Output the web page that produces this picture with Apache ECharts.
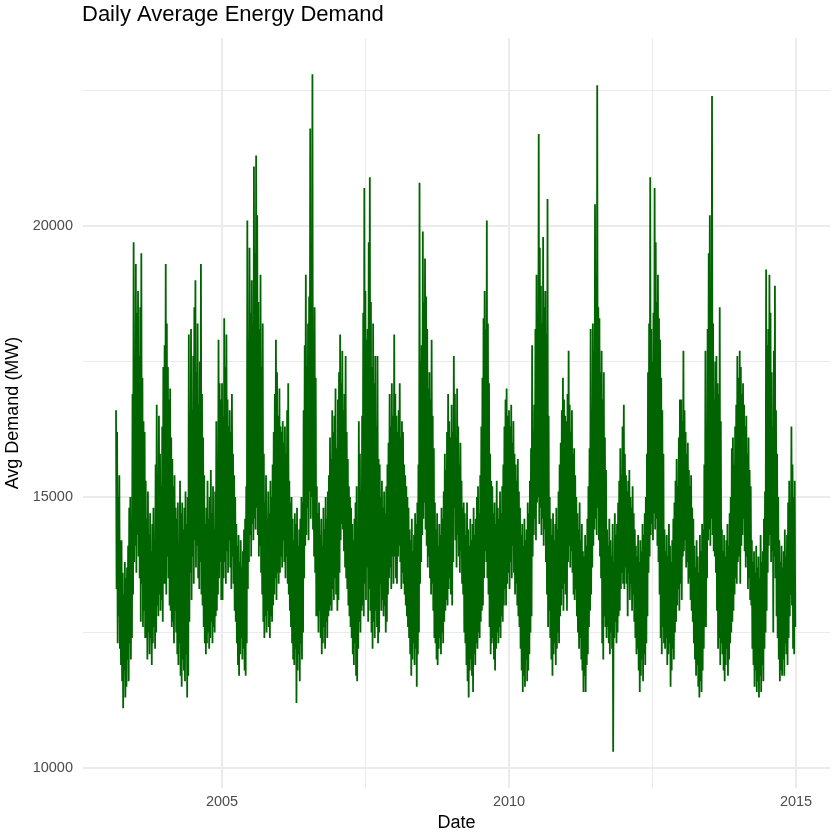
<!DOCTYPE html>
<html lang="en">
<head>
    <meta charset="utf-8">
    <title>Daily Average Energy Demand</title>
    <script src="https://cdn.jsdelivr.net/npm/echarts@6/dist/echarts.min.js"></script>
    <style>
        html, body {margin: 0; padding: 0; background: #fff;}
        #main {width: 840px; height: 840px;}
    </style>
</head>
<body>
<div id="main"></div>
<script type="text/javascript">
    // daily average demand (MW) read off the picture as a weekly high and a weekly low,
    // one pair of arrays per year; 2003 starts late February (week 8)
    var firstWeek2003 = 8;

    var high2003 = [16600, 16200, 15000, 15400, 14200, 14200, 13600, 13200, 13800, 13500, 13700, 14100, 14800, 15000, 14500, 16900, 19700, 17400, 19300, 18400, 18800, 17600, 18500, 19500, 17200, 16400, 16200, 15300, 14600, 15100, 14300, 14700, 14000, 14500, 14800, 14200, 15600, 16700, 15400, 16500, 15800, 15200, 16300, 17400];
    var low2003 = [13300, 12300, 12800, 12200, 11900, 11600, 11100, 11800, 11300, 11500, 12000, 11600, 12300, 12000, 12400, 13200, 13800, 14100, 13600, 14300, 13900, 13500, 12700, 13400, 12600, 12900, 12400, 12400, 12000, 12500, 12100, 12400, 11900, 12300, 12600, 12200, 12500, 13000, 12800, 13200, 12900, 13100, 12700, 13400];

    var high2004 = [17800, 19300, 18200, 17400, 16800, 17000, 16100, 15700, 15200, 15400, 14800, 14600, 14900, 14100, 15300, 14700, 14900, 14400, 14800, 15100, 14500, 15000, 18000, 16500, 18100, 16600, 17600, 18500, 19000, 17300, 18200, 16700, 17500, 19300, 16900, 16100, 15400, 14500, 14800, 15300, 14600, 15000, 15500, 14700, 15200, 14400, 15100, 16400, 15700, 17900, 17100, 16800];
    var low2004 = [13400, 13200, 13900, 13500, 13000, 12900, 12600, 12700, 12300, 12900, 12500, 12100, 11900, 12300, 11700, 11500, 12000, 11800, 11600, 12100, 11300, 11700, 12700, 13600, 13100, 13900, 13400, 14200, 13700, 14100, 13500, 13300, 13800, 13200, 13000, 12600, 12300, 12100, 12300, 12500, 12200, 12400, 12700, 12300, 12600, 12500, 12800, 12900, 13200, 13500, 13800, 13100];

    var high2005 = [17100, 16500, 18300, 17400, 18000, 16800, 16300, 16600, 16200, 16900, 15800, 15400, 15000, 14500, 14100, 14300, 13800, 14200, 13700, 14000, 14400, 14600, 15200, 20100, 17900, 19600, 18400, 19000, 18200, 21100, 19500, 21300, 20200, 18600, 18100, 19100, 17400, 18200, 15800, 14900, 15400, 14600, 15100, 14700, 15300, 15000, 15600, 16200, 16900, 17900, 17300, 16500];
    var low2005 = [13100, 13500, 13800, 13400, 14000, 13600, 14200, 13700, 13300, 13900, 13400, 12900, 12700, 12300, 11900, 11700, 12100, 12400, 12000, 12200, 11800, 11700, 12300, 13300, 13800, 14300, 13900, 14500, 14200, 14600, 14400, 14800, 14300, 13900, 14100, 13600, 13200, 12700, 12400, 12800, 12500, 12900, 12600, 12400, 12800, 12700, 13000, 13200, 13500, 13100, 13600, 13400];

    var high2006 = [17000, 16300, 16200, 16400, 16000, 16300, 15800, 16600, 17100, 15300, 14900, 15000, 14600, 14200, 14700, 14500, 14800, 14100, 14400, 14600, 15000, 14900, 16600, 17800, 19100, 17400, 18200, 18700, 21800, 19200, 22800, 18000, 18500, 17200, 15200, 14700, 14900, 14300, 14600, 14100, 14800, 14400, 15000, 14600, 15100, 15400, 16100, 15700, 16600, 16200, 16500, 17000];
    var low2006 = [13600, 13900, 13700, 14200, 13800, 13500, 13900, 13400, 13200, 12900, 12600, 12300, 12000, 11900, 12200, 11200, 11800, 12100, 11600, 12300, 12000, 12500, 13500, 14100, 14300, 14800, 14200, 15100, 14600, 15000, 14400, 13900, 13600, 12800, 12800, 12500, 12900, 12400, 12100, 12300, 12600, 12200, 12700, 12400, 12800, 12900, 13000, 12900, 13300, 13100, 13500, 13200];

    var high2007 = [15900, 16800, 17300, 18000, 17100, 17700, 16600, 16900, 17600, 16200, 15700, 15200, 15000, 14800, 14500, 14200, 14600, 14900, 15200, 14400, 16400, 15800, 15100, 16500, 18400, 20700, 18800, 17900, 18100, 19700, 20900, 18600, 17400, 18200, 17100, 17600, 16300, 17600, 15700, 15600, 15000, 15300, 14800, 15100, 14700, 15200, 15600, 16000, 16900, 16300, 17100, 16500];
    var low2007 = [12900, 13100, 13600, 14200, 14500, 14400, 14000, 13700, 13500, 13300, 13000, 12800, 12600, 12400, 12100, 11900, 12300, 11700, 11600, 12200, 12700, 12500, 12900, 13000, 12800, 13400, 13100, 13700, 12700, 13300, 12900, 12500, 12200, 12700, 12400, 12900, 12600, 12300, 12500, 13400, 12900, 13100, 12800, 13000, 12500, 12700, 13200, 13500, 13700, 13300, 13900, 13400];

    var high2008 = [18000, 16900, 16500, 16200, 16600, 17100, 16100, 16400, 16200, 15600, 15400, 15200, 15000, 14800, 14400, 14200, 14600, 14000, 14300, 14700, 14500, 14900, 15600, 20800, 17500, 17800, 19900, 18600, 19400, 18700, 18100, 17000, 17300, 16800, 17900, 16500, 15900, 14900, 14400, 14700, 14100, 14500, 14300, 14800, 14600, 15100, 15800, 15500, 16200, 16900, 16400, 16100];
    var low2008 = [13900, 13500, 13400, 13900, 14100, 13800, 13300, 13600, 13400, 13200, 13000, 12800, 12600, 12400, 12100, 11700, 12000, 12300, 11900, 12200, 11500, 12100, 12500, 13400, 13800, 14300, 14600, 14900, 14400, 14100, 13700, 13900, 13500, 13200, 13400, 12900, 12400, 12300, 12000, 11900, 12200, 12400, 12100, 12500, 12300, 12700, 12900, 13100, 13000, 13300, 13500, 13200];

    var high2009 = [16700, 16200, 17600, 16900, 16100, 17000, 16300, 15600, 16000, 15300, 14800, 14900, 14700, 14300, 14900, 14400, 14100, 14600, 14200, 14500, 14800, 14300, 14600, 15000, 15200, 14700, 15400, 16300, 17200, 18300, 18800, 18100, 20100, 18200, 17100, 15800, 15300, 15200, 14700, 14900, 14500, 15300, 14800, 14600, 15100, 14700, 15200, 15600, 16300, 16800, 17000, 16500];
    var low2009 = [13000, 13800, 14800, 14200, 13700, 14300, 13900, 13600, 14000, 13400, 13200, 12500, 12300, 11900, 11600, 11300, 11800, 12000, 11700, 11400, 12100, 11900, 12300, 12200, 12500, 12400, 12700, 12900, 13000, 13500, 14000, 13800, 13500, 13200, 12600, 12100, 12300, 12400, 12000, 11800, 12200, 12500, 12300, 12600, 12400, 12800, 12700, 13000, 13300, 13000, 13400, 13600];

    var high2010 = [16600, 16300, 16700, 16000, 16400, 15800, 15600, 15300, 15700, 15100, 14800, 14300, 14500, 14100, 14600, 14200, 14400, 14900, 14700, 15300, 15900, 17800, 16200, 16700, 18100, 19100, 17400, 21700, 19600, 18900, 18200, 19800, 18500, 18800, 18000, 20500, 16500, 15000, 14600, 14300, 14700, 14200, 14500, 14800, 14400, 15100, 15600, 16000, 16600, 17200, 16800, 16500];
    var low2010 = [13300, 13800, 13500, 14100, 13600, 13200, 13400, 13000, 12800, 12600, 12200, 11800, 11400, 11700, 11500, 12000, 11600, 11800, 12100, 12500, 12800, 13900, 14300, 14600, 14200, 14900, 15000, 14500, 14800, 14300, 14600, 14100, 14400, 13800, 13200, 12600, 12900, 12400, 12000, 11700, 12100, 12300, 11900, 12200, 12500, 12300, 12800, 13000, 13300, 12900, 13400, 13200];

    var high2011 = [16400, 16900, 17700, 16700, 16200, 16600, 15800, 15900, 15400, 15000, 14700, 14400, 14900, 14200, 14500, 14000, 13900, 14300, 14100, 14600, 15200, 15900, 18100, 16600, 18200, 17700, 20400, 19100, 22600, 18500, 18300, 17300, 17700, 16800, 17300, 16100, 15500, 14400, 14100, 14600, 14200, 13900, 14500, 13800, 14700, 14300, 14500, 14900, 15300, 15900, 15400, 16300];
    var low2011 = [12900, 13800, 14100, 13700, 14000, 13600, 13200, 13100, 13300, 12800, 12500, 12200, 12400, 12000, 11800, 11400, 11700, 11400, 11900, 12100, 12600, 12900, 13200, 13700, 14100, 14400, 14600, 14300, 14800, 14200, 13900, 13500, 12300, 12000, 12800, 12600, 12400, 12600, 12300, 12100, 12500, 12200, 10300, 12400, 12700, 12300, 12500, 12800, 12900, 13300, 13600, 13400];

    var high2012 = [16700, 15800, 15400, 15100, 15300, 15500, 15000, 14800, 15200, 14700, 14400, 14100, 13900, 14300, 13800, 14200, 14000, 14500, 14300, 14700, 15000, 15800, 17300, 18200, 20900, 18100, 17500, 18400, 20700, 19700, 18600, 19100, 18300, 17900, 17200, 16600, 15800, 14400, 14000, 14300, 13900, 14500, 14100, 13800, 14200, 14600, 14900, 15300, 15700, 15200, 16100, 16800];
    var low2012 = [13300, 13700, 13400, 12800, 13600, 13100, 13400, 12900, 13200, 12700, 12400, 12100, 12200, 11800, 11400, 11700, 12000, 11600, 12100, 11900, 12300, 12800, 13600, 13900, 14300, 14500, 14200, 14700, 14400, 14600, 14100, 13800, 13200, 12400, 12100, 12600, 12300, 12200, 12400, 11900, 12100, 12300, 11500, 11800, 12200, 12000, 12500, 12700, 13000, 13300, 12900, 13400];

    var high2013 = [16800, 16400, 17700, 16600, 16200, 15800, 16000, 15500, 15200, 15400, 14800, 14600, 14100, 13700, 14200, 13900, 13600, 14300, 14000, 14500, 14400, 15600, 17700, 16300, 18100, 19500, 20200, 18300, 22400, 18200, 16800, 17500, 17600, 17100, 16900, 18500, 16400, 14400, 14000, 14300, 13900, 14200, 14500, 14100, 14700, 15000, 15900, 16100, 15600, 16300, 16700, 17600];
    var low2013 = [13100, 13900, 14000, 14200, 13700, 13800, 13400, 13500, 13100, 12900, 12700, 12300, 12000, 11700, 11900, 11500, 11300, 11600, 11400, 11800, 12200, 12600, 12600, 13500, 14200, 14400, 14100, 14600, 14300, 14000, 13900, 13600, 12900, 12200, 12400, 11900, 12300, 12100, 11800, 11600, 11900, 12200, 11700, 12000, 12300, 12500, 12700, 12900, 13200, 13500, 13400, 13800];

    var high2014 = [17200, 17700, 17400, 16900, 17100, 16700, 16300, 16500, 15800, 16100, 15500, 15200, 14200, 13800, 14000, 13600, 14100, 13700, 13900, 13500, 14300, 13800, 14000, 14600, 15100, 19200, 17800, 18100, 19100, 18400, 17300, 16300, 17700, 18900, 16600, 15800, 15000, 14200, 13800, 14100, 13700, 14000, 14400, 13900, 14300, 14900, 15300, 14600, 16300, 15600, 15000, 15300];
    var low2014 = [13900, 13400, 14100, 14300, 14600, 14000, 13700, 13900, 13300, 13500, 13100, 13000, 12200, 11900, 11500, 11800, 11400, 11600, 11300, 11700, 11400, 11900, 11600, 12200, 12500, 12900, 13600, 14100, 14300, 13800, 14000, 12500, 13900, 13500, 12800, 12400, 12000, 11600, 11800, 11700, 12000, 11700, 12300, 12100, 11900, 12400, 12800, 13200, 13000, 12200, 12100, 12600];

    var years = [2003, 2004, 2005, 2006, 2007, 2008, 2009, 2010, 2011, 2012, 2013, 2014];
    var highs = [high2003, high2004, high2005, high2006, high2007, high2008,
        high2009, high2010, high2011, high2012, high2013, high2014];
    var lows = [low2003, low2004, low2005, low2006, low2007, low2008,
        low2009, low2010, low2011, low2012, low2013, low2014];
    var yearLabels = [2005, 2010, 2015];

    // decimal year on x: high at the start of the week, low half a week later
    var points = [];
    years.forEach(function (y, k) {
        var start = k === 0 ? firstWeek2003 : 0;
        highs[k].forEach(function (h, i) {
            var day = 7 * (start + i);
            points.push([y + day / 365.25, h]);
            points.push([y + (day + 3.5) / 365.25, lows[k][i]]);
        });
    });

    var gridColor = '#EBEBEB';
    var myChart = echarts.init(document.getElementById('main'));

    var option = {
        animation: false,
        backgroundColor: '#ffffff',
        textStyle: {fontFamily: 'Liberation Sans, Arial, sans-serif'},
        title: {
            text: 'Daily Average Energy Demand',
            left: 82,
            top: 4,
            padding: 0,
            textStyle: {fontSize: 22, fontWeight: 'normal', color: '#000000'}
        },
        grid: {
            left: 83,
            right: 10,
            top: 38,
            bottom: 52,
            containLabel: false,
            outerBoundsMode: 'none'
        },
        xAxis: {
            type: 'value',
            min: 2002.578,
            max: 2015.592,
            splitNumber: 3,
            name: 'Date',
            nameLocation: 'middle',
            nameGap: 24,
            nameTextStyle: {fontSize: 18, color: '#000000'},
            axisLine: {show: false},
            axisTick: {show: false},
            axisLabel: {
                fontSize: 14.5,
                color: '#4D4D4D',
                margin: 6,
                showMinLabel: false,
                showMaxLabel: false,
                formatter: function (v) {
                    return yearLabels.indexOf(v) >= 0 ? String(v) : '';
                }
            },
            splitLine: {
                show: true,
                showMinLine: false,
                showMaxLine: false,
                lineStyle: {color: gridColor, width: 2}
            },
            minorTick: {show: false, splitNumber: 2},
            minorSplitLine: {show: true, lineStyle: {color: gridColor, width: 1.1}}
        },
        yAxis: {
            type: 'value',
            min: 9630,
            max: 23470,
            splitNumber: 3,
            name: 'Avg Demand (MW)',
            nameLocation: 'middle',
            nameGap: 52,
            nameRotate: 90,
            nameTextStyle: {fontSize: 18, color: '#000000'},
            axisLine: {show: false},
            axisTick: {show: false},
            axisLabel: {
                fontSize: 14.5,
                color: '#4D4D4D',
                margin: 10,
                showMinLabel: false,
                showMaxLabel: false,
                formatter: function (v) {
                    return v % 5000 === 0 ? String(v) : '';
                }
            },
            splitLine: {
                show: true,
                showMinLine: false,
                showMaxLine: false,
                lineStyle: {color: gridColor, width: 2}
            },
            minorTick: {show: false, splitNumber: 2},
            minorSplitLine: {show: true, lineStyle: {color: gridColor, width: 1.1}}
        },
        series: [
            {
                name: 'Avg Demand',
                type: 'line',
                data: points,
                showSymbol: false,
                symbol: 'none',
                sampling: null,
                lineStyle: {color: '#006400', width: 1.8},
                itemStyle: {color: '#006400'}
            }
        ]
    };
    myChart.setOption(option);
</script>
</body>
</html>
